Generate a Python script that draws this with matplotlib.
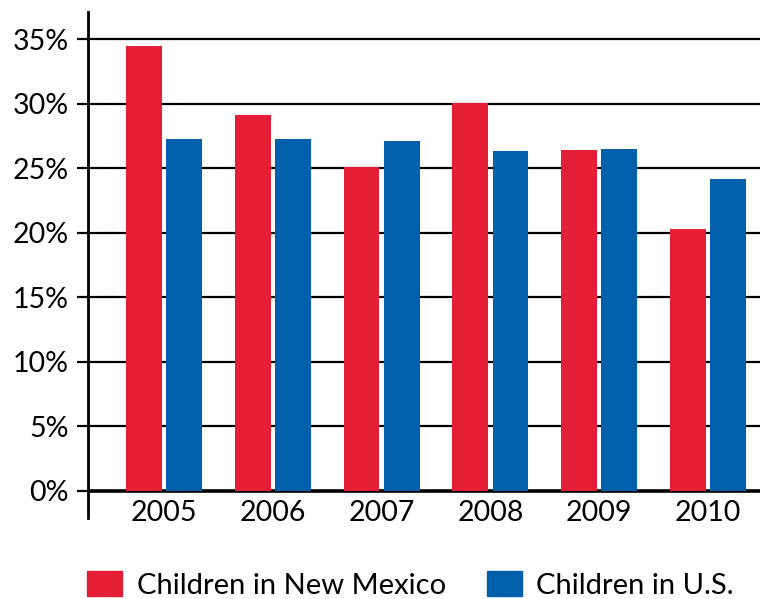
import matplotlib
matplotlib.use("Agg")
import matplotlib.pyplot as plt
from matplotlib.patches import Patch
import numpy as np

years = ["2005", "2006", "2007", "2008", "2009", "2010"]
new_mexico = [34.5, 29.1, 25.1, 30.05, 26.4, 20.3]
us = [27.3, 27.3, 27.1, 26.3, 26.5, 24.2]
yticks = [0, 5, 10, 15, 20, 25, 30, 35]

red = "#e31e35"
blue = "#0060ac"

plt.rcParams["font.family"] = ["Lato", "DejaVu Sans"]

fig = plt.figure(figsize=(7.68, 5.99), dpi=100)
ax = fig.add_axes([88 / 768, 1 - 518 / 599, 672 / 768, 506 / 599])

x = np.arange(len(years))
w = 0.33
gap = 0.02

# grid lines first so bars sit on top of them
for t in yticks:
    ax.axhline(t, color="black", lw=2.6 if t == 0 else 1.6, zorder=1)

ax.bar(x - w / 2 - gap, new_mexico, width=w, color=red, zorder=2)
ax.bar(x + w / 2 + gap, us, width=w, color=blue, zorder=2)

ax.set_xlim(-0.70, 5.48)
ax.set_ylim(-2.1, 37.1)

for s in ["top", "right", "bottom"]:
    ax.spines[s].set_visible(False)
ax.spines["left"].set_linewidth(2)

ax.set_yticks(yticks)
ax.set_yticklabels([f"{t}%" for t in yticks], fontsize=20.5)
ax.tick_params(axis="y", length=8, width=1.6, pad=6)
ax.set_xticks([])

for i, yr in enumerate(years):
    ax.text(i, -1.7, yr, ha="center", va="center", fontsize=20.5)

handles = [Patch(color=red, label="Children in New Mexico"),
           Patch(color=blue, label="Children in U.S.")]
fig.legend(handles=handles, ncol=2, loc="center left",
           bbox_to_anchor=(87 / 768, 1 - 585 / 599), frameon=False,
           fontsize=21, handlelength=1.2, handleheight=0.9,
           handletextpad=0.5, columnspacing=1.4, borderpad=0, borderaxespad=0)

fig.savefig("out.png", dpi=100)
